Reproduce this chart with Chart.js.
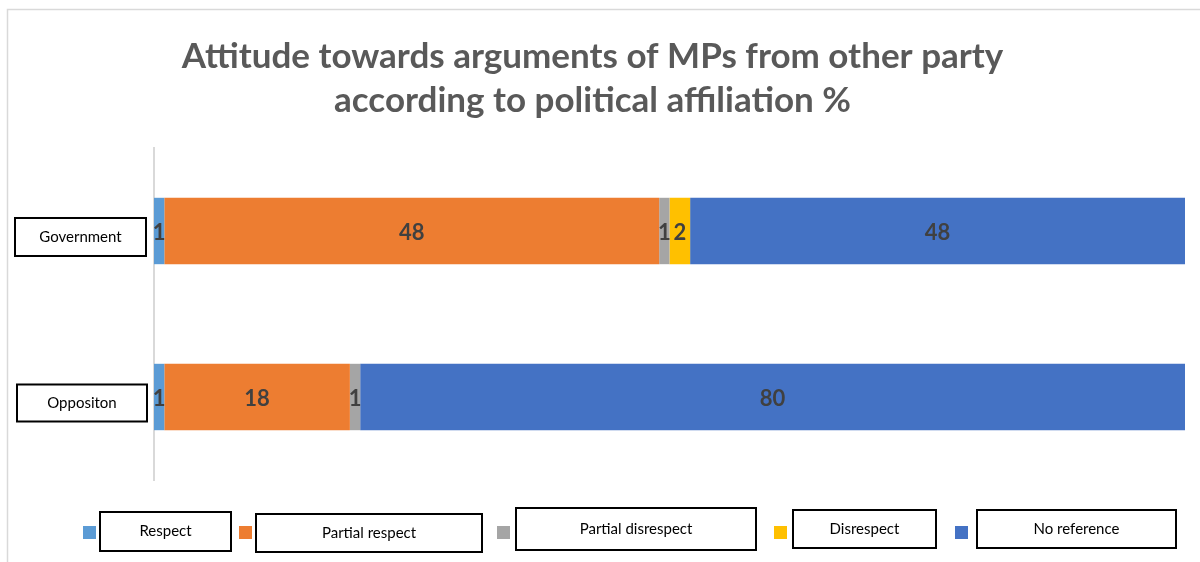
<!DOCTYPE html>
<html>
<head>
<meta charset="utf-8">
<title>Attitude towards arguments of MPs</title>
<script src="https://cdn.jsdelivr.net/npm/chart.js@4/dist/chart.umd.min.js"></script>
<style>
  html, body { margin: 0; padding: 0; background: #fff; }
  #wrap { width: 1200px; height: 562px; }
</style>
</head>
<body>
<div id="wrap"><canvas id="attitudeChart" width="1200" height="562"></canvas></div>
<script>
// Categories and series (percent)
const groups = ['Government', 'Oppositon'];
const seriesNames = ['Respect', 'Partial respect', 'Partial disrespect', 'Disrespect', 'No reference'];
const respect = [1, 1];
const partialRespect = [48, 18];
const partialDisrespect = [1, 1];
const disrespect = [2, 0];
const noReference = [48, 80];
const seriesColors = ['#5b9bd5', '#ed7d31', '#a5a5a5', '#ffc000', '#4472c4'];

const FONT = 'Lato, "Open Sans", sans-serif';

// boxed category labels, left of the axis
const catBox = [
    { x: 14, w: 133, h: 40, dy: 6 },
    { x: 16, w: 132, h: 39, dy: 6 }
];
// legend: colour square + boxed text
const legendLayout = [
    { sq: 83,  x: 99,  y: 511, w: 133, h: 41 },
    { sq: 239, x: 255, y: 513, w: 228, h: 40 },
    { sq: 497, x: 515, y: 507, w: 242, h: 44 },
    { sq: 774, x: 792, y: 509, w: 145, h: 40 },
    { sq: 955, x: 976, y: 509, w: 201, h: 40 }
];

function drawBox(ctx, x, y, w, h, text, size) {
    ctx.fillStyle = '#fff';
    ctx.fillRect(x, y, w, h);
    ctx.lineWidth = 2;
    ctx.strokeStyle = '#000';
    ctx.strokeRect(x + 1, y + 1, w - 2, h - 2);
    ctx.fillStyle = '#000';
    ctx.font = size + 'px ' + FONT;
    ctx.textAlign = 'center';
    ctx.textBaseline = 'middle';
    ctx.fillText(text, x + w / 2, y + h / 2);
}

const decorations = {
    id: 'decorations',
    beforeDraw(chart) {
        const ctx = chart.ctx;
        ctx.save();
        ctx.strokeStyle = '#d9d9d9';
        ctx.lineWidth = 1.5;
        ctx.strokeRect(7.5, 9.5, 1210, 570);
        ctx.restore();
    },
    afterDatasetsDraw(chart) {
        const ctx = chart.ctx;
        ctx.save();
        // value labels centred in each segment
        ctx.font = 'bold 22px ' + FONT;
        ctx.fillStyle = '#404040';
        ctx.textAlign = 'center';
        ctx.textBaseline = 'middle';
        chart.data.datasets.forEach((ds, di) => {
            chart.getDatasetMeta(di).data.forEach((bar, i) => {
                const v = ds.data[i];
                if (!v) return;
                const p = bar.getProps(['x', 'base', 'y'], true);
                ctx.fillText(String(v), (p.x + p.base) / 2, p.y + 2);
            });
        });

        // category labels
        const yScale = chart.scales.y;
        groups.forEach((g, i) => {
            const b = catBox[i];
            const cy = yScale.getPixelForValue(i) + b.dy;
            drawBox(ctx, b.x, cy - b.h / 2, b.w, b.h, g, 15);
        });

        // legend
        seriesNames.forEach((name, i) => {
            const l = legendLayout[i];
            ctx.fillStyle = seriesColors[i];
            ctx.fillRect(l.sq, 526, 13, 13);
            drawBox(ctx, l.x, l.y, l.w, l.h, name, 15);
        });
        ctx.restore();
    }
};

const seriesValues = [respect, partialRespect, partialDisrespect, disrespect, noReference];

new Chart(document.getElementById('attitudeChart').getContext('2d'), {
    type: 'bar',
    data: {
        labels: groups,
        datasets: seriesNames.map((name, i) => ({
            label: name,
            data: seriesValues[i],
            backgroundColor: seriesColors[i],
            borderWidth: 0,
            categoryPercentage: 0.8,
            barPercentage: 0.5
        }))
    },
    options: {
        indexAxis: 'y',
        responsive: false,
        animation: false,
        layout: { padding: { left: 0, right: 15, top: 0, bottom: 82 } },
        scales: {
            x: { stacked: true, min: 0, max: 100, display: false },
            y: {
                stacked: true,
                grid: { display: false },
                ticks: { display: false },
                border: { display: true, color: '#d9d9d9', width: 2 },
                afterFit(scale) { scale.width = 154; }
            }
        },
        plugins: {
            legend: { display: false },
            tooltip: { enabled: false },
            title: {
                display: true,
                text: ['Attitude towards arguments of MPs from other party', 'according to political affiliation %'],
                color: '#595959',
                font: { family: FONT, size: 35, weight: 'bold', lineHeight: 1.257 },
                padding: { top: 35, bottom: 25 }
            }
        }
    },
    plugins: [decorations]
});
</script>
</body>
</html>
